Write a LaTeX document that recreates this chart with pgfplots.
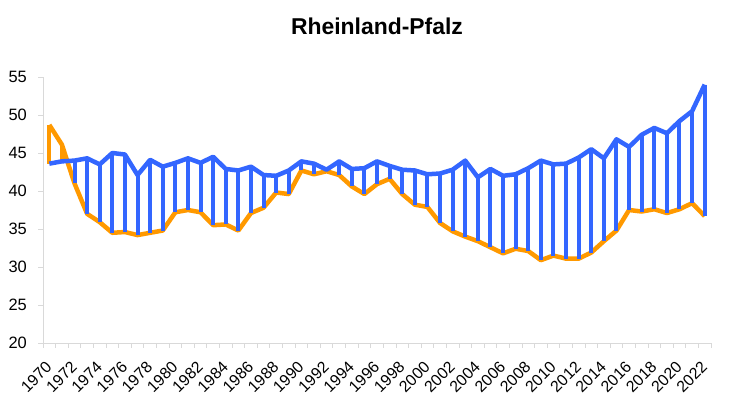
\documentclass[border=0pt]{standalone}
\usepackage{fontspec}
\setmainfont{Liberation Sans}
\usepackage{pgfplots}
\usepackage{pgfplotstable}
\pgfplotsset{compat=1.18}
\definecolor{cblue}{RGB}{51,102,255}
\definecolor{corange}{RGB}{255,153,0}
\definecolor{axgray}{RGB}{217,217,217}
\pgfplotstableread{
year blue orange
1970 43.6 48.7
1971 43.9 46.1
1972 44.0 41.0
1973 44.3 37.0
1974 43.5 35.9
1975 45.0 34.5
1976 44.8 34.6
1977 42.1 34.2
1978 44.1 34.5
1979 43.2 34.8
1980 43.7 37.2
1981 44.3 37.5
1982 43.7 37.2
1983 44.5 35.5
1984 42.9 35.6
1985 42.7 34.8
1986 43.2 37.1
1987 42.1 37.8
1988 42.0 39.8
1989 42.7 39.6
1990 43.9 42.7
1991 43.6 42.2
1992 42.8 42.6
1993 43.9 42.1
1994 42.9 40.6
1995 43.0 39.6
1996 43.9 40.9
1997 43.3 41.6
1998 42.8 39.6
1999 42.7 38.2
2000 42.2 37.9
2001 42.3 35.8
2002 42.8 34.7
2003 44.0 34.0
2004 41.8 33.4
2005 42.9 32.6
2006 42.0 31.8
2007 42.2 32.4
2008 43.0 32.1
2009 44.0 30.9
2010 43.5 31.5
2011 43.6 31.1
2012 44.4 31.1
2013 45.5 31.9
2014 44.3 33.4
2015 46.8 34.8
2016 45.8 37.5
2017 47.4 37.3
2018 48.3 37.6
2019 47.6 37.1
2020 49.2 37.6
2021 50.5 38.4
2022 54.0 36.7
}\data
\begin{document}
\begin{tikzpicture}
\path[use as bounding box] (0,0) rectangle (730bp,399bp);
\begin{axis}[
  at={(43bp,56bp)}, anchor=south west,
  scale only axis, width=668bp, height=266bp,
  xmin=1969.5, xmax=2022.5, ymin=20, ymax=55,
  axis x line*=bottom, axis y line*=left,
  axis line style={draw=axgray, line width=0.8bp},
  xtick={1970,1972,...,2022},
  minor xtick={1969.5,1970.5,...,2022.5},
  ytick={20,25,...,55},
  tick align=outside,
  major tick length=5bp, minor tick length=5bp,
  tick style={draw=axgray, line width=0.8bp},
  major x tick style={draw=none},
  /pgf/number format/assume math mode=true,
  /pgf/number format/1000 sep={},
  tick label style={font=\fontsize{16.5}{18}\selectfont, text=black},
  xticklabel style={font=\fontsize{16}{18}\selectfont, rotate=45, anchor=east, inner sep=0.5bp},
  xticklabel shift={16bp},
  yticklabel style={inner sep=2bp, xshift=-9bp},
  title={\bfseries Rheinland-Pfalz},
  title style={font=\fontsize{23}{26}\selectfont\bfseries, at={(axis description cs:0.5,1)}, anchor=center, yshift=45bp},
  clip=false,
]
\addplot[corange, line width=4.5bp, mark=none, line join=round] table[x=year, y=orange] {\data};
\addplot[draw=none, mark=none, forget plot,
  error bars/.cd, y dir=minus, y explicit, error mark=none,
  error bar style={draw=cblue, line width=4bp, line cap=butt}]
  table[x=year, y=blue, y error minus expr={max(\thisrow{blue}-\thisrow{orange},0)}] {\data};
\addplot[draw=none, mark=none, forget plot,
  error bars/.cd, y dir=minus, y explicit, error mark=none,
  error bar style={draw=corange, line width=4bp, line cap=butt}]
  table[x=year, y=orange, y error minus expr={max(\thisrow{orange}-\thisrow{blue},0)}] {\data};
\addplot[cblue, line width=4.5bp, mark=none, line join=round] table[x=year, y=blue] {\data};
\end{axis}
\end{tikzpicture}
\end{document}
